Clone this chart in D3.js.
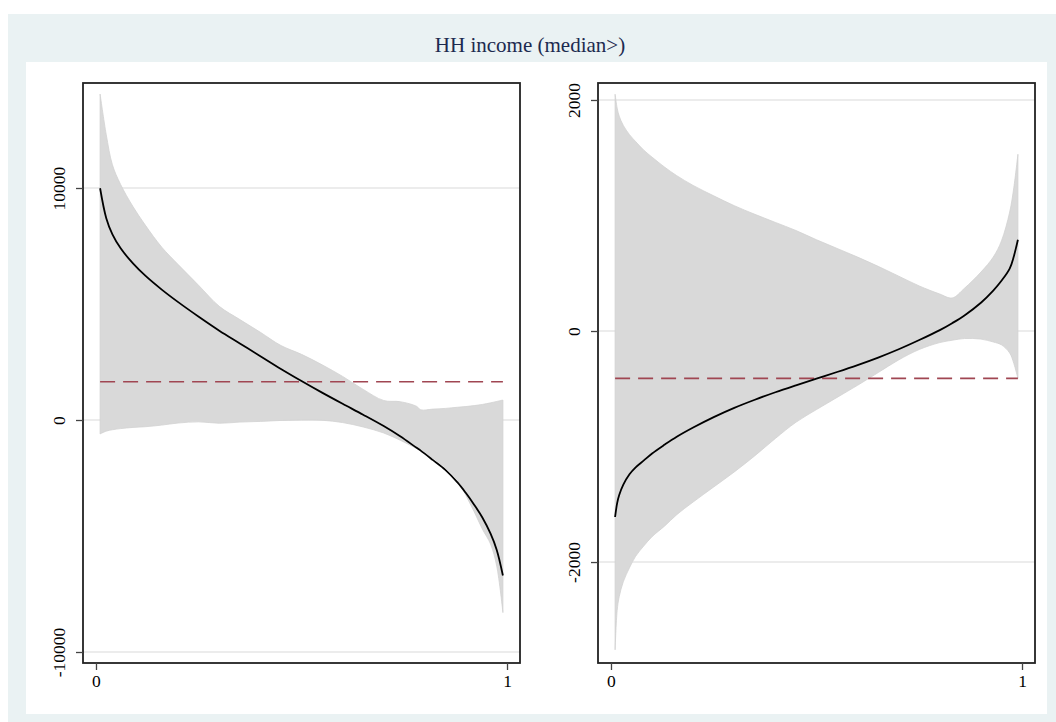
<!DOCTYPE html>
<html>
<head>
<meta charset="utf-8">
<script src="https://cdn.jsdelivr.net/npm/d3@7"></script>
<style>
  html, body { margin: 0; padding: 0; background: #ffffff; }
  svg { display: block; }
  text { font-family: "Liberation Serif", "Times New Roman", Times, serif; }
</style>
</head>
<body>
<svg id="chart" width="1056" height="722"></svg>
<script>
// ---------------- DATA ----------------
const titleText = "HH income (median>)";

// Left panel
const leftX = [0.01, 0.025, 0.04, 0.06, 0.09, 0.12, 0.16, 0.2, 0.25, 0.3, 0.35, 0.4, 0.45, 0.5, 0.55, 0.6, 0.65, 0.7, 0.74, 0.78, 0.79, 0.82, 0.85, 0.88, 0.9, 0.92, 0.94, 0.96, 0.975, 0.99];
const leftUpper = [14050, 12300, 11000, 10150, 9200, 8400, 7450, 6700, 5800, 4900, 4330, 3780, 3210, 2830, 2380, 1880, 1320, 840, 790, 590, 440, 470, 500, 550, 580, 620, 670, 740, 800, 860];
const leftEst = [9990, 8700, 8000, 7400, 6750, 6220, 5620, 5080, 4450, 3850, 3300, 2750, 2200, 1680, 1180, 700, 230, -260, -700, -1200, -1320, -1730, -2150, -2700, -3150, -3650, -4200, -4900, -5600, -6700];
const leftLower = [-600, -480, -420, -370, -320, -290, -220, -130, -80, -140, -90, -60, -20, 0, -10, -110, -300, -560, -870, -1230, -1330, -1650, -2050, -2600, -3250, -3950, -4700, -5350, -6300, -8300];
const leftRef = 1650;
const leftYTicks = [-10000, 0, 10000];
const leftYDomain = [-10474, 14526];

// Right panel
const rightX = [0.01, 0.015, 0.02, 0.03, 0.045, 0.06, 0.08, 0.1, 0.13, 0.16, 0.2, 0.25, 0.3, 0.35, 0.4, 0.45, 0.5, 0.55, 0.6, 0.65, 0.7, 0.75, 0.8, 0.83, 0.86, 0.9, 0.93, 0.95, 0.97, 0.98, 0.99];
const rightUpper = [2050, 1930, 1860, 1780, 1700, 1640, 1565, 1505, 1420, 1345, 1260, 1170, 1085, 1010, 940, 870, 790, 715, 640, 560, 475, 390, 320, 286, 370, 510, 640, 780, 1030, 1240, 1530];
const rightEst = [-1610, -1490, -1420, -1330, -1240, -1180, -1120, -1060, -985, -915, -835, -745, -665, -595, -530, -470, -412, -355, -295, -230, -158, -78, 8, 68, 135, 245, 350, 435, 540, 645, 790];
const rightLower = [-2760, -2420, -2300, -2170, -2050, -1950, -1860, -1780, -1690, -1590, -1480, -1350, -1220, -1080, -930, -790, -680, -575, -470, -360, -250, -160, -100, -80, -65, -70, -95, -120, -190, -280, -410];
const rightRef = -410;
const rightYTicks = [-2000, 0, 2000];
const rightYDomain = [-2874, 2147];

const xTicks = [0, 1];
const xDomain = [-0.0316, 1.0316];

// ---------------- DRAW ----------------
const svg = d3.select("#chart");
const W = 1056, H = 722;
const FONT = "'Liberation Serif', 'Times New Roman', Times, serif";

svg.append("rect").attr("x", 0).attr("y", 0).attr("width", W).attr("height", H).attr("fill", "#ffffff");
svg.append("rect").attr("x", 8).attr("y", 14).attr("width", W - 8).attr("height", H - 14).attr("fill", "#eaf2f3");
svg.append("rect").attr("x", 26).attr("y", 62).attr("width", 1021).attr("height", 652).attr("fill", "#ffffff");

svg.append("text")
  .attr("x", 530).attr("y", 52)
  .attr("text-anchor", "middle")
  .style("font-family", FONT)
  .style("font-size", "21px")
  .attr("fill", "#1c2a4f")
  .text(titleText);

const panels = [
  { left: 83, right: 520, x: leftX, up: leftUpper, est: leftEst, lo: leftLower, ref: leftRef, yTicks: leftYTicks, yDomain: leftYDomain },
  { left: 598, right: 1035, x: rightX, up: rightUpper, est: rightEst, lo: rightLower, ref: rightRef, yTicks: rightYTicks, yDomain: rightYDomain }
];
const plotTop = 83, plotBottom = 663;
const curve = d3.curveCatmullRom.alpha(0.5);

panels.forEach(p => {
  const x = d3.scaleLinear().domain(xDomain).range([p.left, p.right]);
  const y = d3.scaleLinear().domain(p.yDomain).range([plotBottom, plotTop]);
  const g = svg.append("g");

  g.append("rect").attr("x", p.left).attr("y", plotTop).attr("width", p.right - p.left).attr("height", plotBottom - plotTop).attr("fill", "#ffffff");

  g.selectAll("line.grid").data(p.yTicks).enter().append("line")
    .attr("class", "grid")
    .attr("x1", p.left).attr("x2", p.right)
    .attr("y1", d => y(d)).attr("y2", d => y(d))
    .attr("stroke", "#e6e6e6").attr("stroke-width", 1.5);

  const rows = p.x.map((xv, i) => ({ x: xv, up: p.up[i], est: p.est[i], lo: p.lo[i] }));

  const area = d3.area()
    .x(d => x(d.x)).y0(d => y(d.lo)).y1(d => y(d.up))
    .curve(curve);
  g.append("path").datum(rows).attr("d", area)
    .attr("fill", "#d9d9d9").attr("stroke", "#d2d2d2").attr("stroke-width", 0.8);

  g.append("line")
    .attr("x1", x(p.x[0])).attr("x2", x(p.x[p.x.length - 1]))
    .attr("y1", y(p.ref)).attr("y2", y(p.ref))
    .attr("stroke", "#a04652").attr("stroke-width", 1.6)
    .attr("stroke-dasharray", "15,8");

  const line = d3.line().x(d => x(d.x)).y(d => y(d.est)).curve(curve);
  g.append("path").datum(rows).attr("d", line)
    .attr("fill", "none").attr("stroke", "#000000").attr("stroke-width", 1.8);

  g.append("rect").attr("x", p.left).attr("y", plotTop).attr("width", p.right - p.left).attr("height", plotBottom - plotTop)
    .attr("fill", "none").attr("stroke", "#222222").attr("stroke-width", 1.8);

  const yAxis = d3.axisLeft(y).tickValues(p.yTicks).tickSize(7).tickPadding(4).tickFormat(d => String(d));
  const ya = g.append("g").attr("transform", `translate(${p.left},0)`).call(yAxis);
  ya.attr("font-family", null).attr("font-size", null);
  ya.select(".domain").remove();
  ya.selectAll(".tick line").attr("stroke", "#444444").attr("stroke-width", 1.3);
  ya.selectAll(".tick text")
    .style("font-family", FONT)
    .style("font-size", "17.5px").attr("fill", "#000")
    .attr("text-anchor", "middle")
    .attr("x", 0).attr("dy", 0)
    .attr("transform", "translate(-18,0) rotate(-90)");

  const xAxis = d3.axisBottom(x).tickValues(xTicks).tickSize(7).tickPadding(5).tickFormat(d => String(d));
  const xa = g.append("g").attr("transform", `translate(0,${plotBottom})`).call(xAxis);
  xa.attr("font-family", null).attr("font-size", null);
  xa.select(".domain").remove();
  xa.selectAll(".tick line").attr("stroke", "#444444").attr("stroke-width", 1.3);
  xa.selectAll(".tick text")
    .style("font-family", FONT)
    .style("font-size", "17.5px").attr("fill", "#000");
});
</script>
</body>
</html>
